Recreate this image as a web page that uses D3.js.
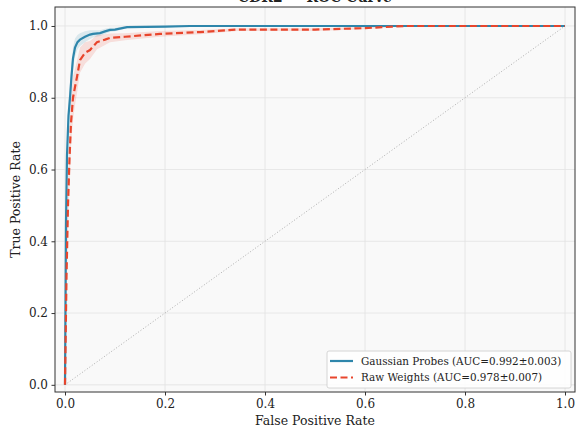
<!DOCTYPE html>
<html><head><meta charset="utf-8">
<script src="https://cdn.jsdelivr.net/npm/d3@7/dist/d3.min.js"></script>
<style>body{margin:0;background:#fff}svg{display:block}text{font-family:"DejaVu Serif",serif}</style>
</head><body><svg id="c" width="576" height="433"></svg>
<script>
const title = "CDR2 \u2014 ROC Curve";
const xTicks = [0,0.2,0.4,0.6,0.8,1.0];
const yTicks = [0,0.2,0.4,0.6,0.8,1.0];
const gpFpr = [0,0.002,0.004,0.007,0.01,0.013,0.016,0.02,0.025,0.03,0.04,0.05,0.056,0.07,0.08,0.09,0.1,0.124,0.2,0.25,0.4,1.0];
const gpTpr = [0,0.45,0.64,0.75,0.80,0.86,0.91,0.94,0.955,0.962,0.97,0.976,0.978,0.98,0.985,0.989,0.99,0.997,0.998,1.0,1.0,1.0];
const gpStd = [0,0.05,0.05,0.045,0.04,0.035,0.03,0.025,0.02,0.018,0.015,0.012,0.01,0.008,0.007,0.006,0.005,0.003,0.002,0.001,0,0];
const rwFpr = [0,0.003,0.006,0.009,0.012,0.016,0.02,0.024,0.03,0.04,0.05,0.064,0.08,0.09,0.12,0.19,0.27,0.345,0.5,0.6,0.68,1.0];
const rwTpr = [0,0.30,0.50,0.63,0.73,0.80,0.83,0.858,0.905,0.925,0.933,0.955,0.962,0.967,0.97,0.978,0.983,0.99,0.99,0.994,1.0,1.0];
const rwStd = [0,0.06,0.07,0.07,0.065,0.06,0.05,0.045,0.035,0.03,0.025,0.02,0.015,0.012,0.01,0.008,0.006,0.004,0.004,0.003,0.0,0];
const legendLabels = ["Gaussian Probes (AUC=0.992\u00b10.003)","Raw Weights (AUC=0.978\u00b10.007)"];
const colors = ["#2e86ab","#e8452c"];

const svg = d3.select("#c");
const L=55,R=575,T=7,B=392;
const x = d3.scaleLinear().domain([-0.02,1.02]).range([L,R]);
const y = d3.scaleLinear().domain([-0.02,1.0529]).range([B,T]);

svg.append("rect").attr("x",L).attr("y",T).attr("width",R-L).attr("height",B-T).attr("fill","#f9f9f9");
svg.append("g").selectAll("line").data(xTicks).join("line")
 .attr("x1",d=>x(d)).attr("x2",d=>x(d)).attr("y1",T).attr("y2",B)
 .attr("stroke","#e2e2e2").attr("stroke-width",0.8);
svg.append("g").selectAll("line").data(yTicks).join("line")
 .attr("y1",d=>y(d)).attr("y2",d=>y(d)).attr("x1",L).attr("x2",R)
 .attr("stroke","#e2e2e2").attr("stroke-width",0.8);

svg.append("line").attr("x1",x(0)).attr("y1",y(0)).attr("x2",x(1)).attr("y2",y(1))
 .attr("stroke","#999").attr("stroke-width",0.8).attr("stroke-dasharray","1,2");

function band(fpr,tpr,std,col){
  const d = fpr.map((f,i)=>({f,lo:Math.max(0,tpr[i]-std[i]),hi:Math.min(1,tpr[i]+std[i])}));
  svg.append("path").datum(d).attr("fill",col).attr("opacity",0.15)
   .attr("d",d3.area().x(p=>x(p.f)).y0(p=>y(p.lo)).y1(p=>y(p.hi)));
}
band(gpFpr,gpTpr,gpStd,colors[0]);
band(rwFpr,rwTpr,rwStd,colors[1]);

const line = d3.line().x(p=>x(p[0])).y(p=>y(p[1]));
svg.append("path").datum(gpFpr.map((f,i)=>[f,gpTpr[i]])).attr("d",line)
 .attr("fill","none").attr("stroke",colors[0]).attr("stroke-width",2.2);
svg.append("path").datum(rwFpr.map((f,i)=>[f,rwTpr[i]])).attr("d",line)
 .attr("fill","none").attr("stroke",colors[1]).attr("stroke-width",2.2).attr("stroke-dasharray","7,3.5");

const xa = svg.append("g").attr("transform",`translate(0,${B})`)
 .call(d3.axisBottom(x).tickValues(xTicks).tickFormat(d3.format(".1f")).tickSize(3.5).tickPadding(3.5));
const ya = svg.append("g").attr("transform",`translate(${L},0)`)
 .call(d3.axisLeft(y).tickValues(yTicks).tickFormat(d3.format(".1f")).tickSize(3.5).tickPadding(3.5));
[xa,ya].forEach(a=>{a.select(".domain").remove();a.selectAll("text").attr("font-size",12).attr("fill","#222").attr("font-family","DejaVu Serif");a.selectAll("line").attr("stroke","#333");});
svg.append("rect").attr("x",L).attr("y",T).attr("width",R-L).attr("height",B-T)
 .attr("fill","none").attr("stroke","#333").attr("stroke-width",1);

svg.append("text").attr("x",(L+R)/2).attr("y",425).attr("text-anchor","middle").attr("font-size",12.5).attr("fill","#222").text("False Positive Rate");
svg.append("text").attr("transform",`translate(20,${(T+B)/2}) rotate(-90)`).attr("text-anchor","middle").attr("font-size",12.5).attr("fill","#222").text("True Positive Rate");
svg.append("text").attr("x",(L+R)/2).attr("y",2).attr("text-anchor","middle").attr("font-size",14).attr("font-weight","bold").attr("fill","#222").text(title);

const lg = svg.append("g");
lg.append("rect").attr("x",327).attr("y",351).attr("width",244).attr("height",37).attr("rx",2)
 .attr("fill","#fff").attr("fill-opacity",0.85).attr("stroke","#ccc").attr("stroke-width",0.8);
legendLabels.forEach((t,i)=>{
  const yy = 361+i*16.5;
  lg.append("line").attr("x1",330).attr("x2",353).attr("y1",yy).attr("y2",yy)
   .attr("stroke",colors[i]).attr("stroke-width",2.2).attr("stroke-dasharray",i?"7,3.5":null);
  lg.append("text").attr("x",361).attr("y",yy+3.7).attr("font-size",10.4).attr("fill","#222").text(t);
});
</script></body></html>
